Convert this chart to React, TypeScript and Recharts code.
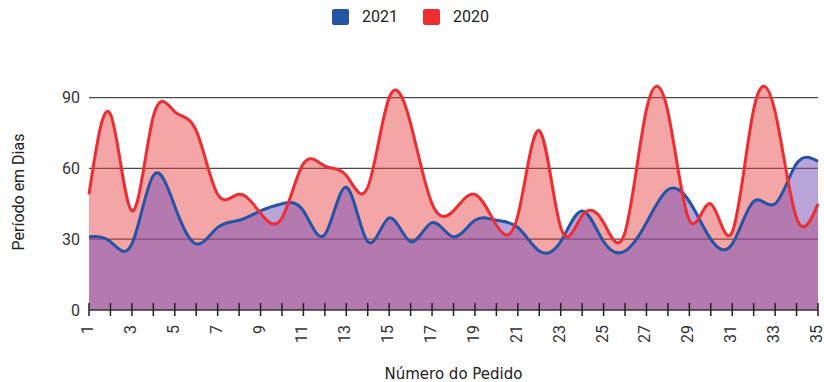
import React from 'react';
import { ComposedChart, Area, Line, XAxis, YAxis, CartesianGrid } from 'recharts';

// Order numbers (x axis) and delivery times in days for each year
const pedidos = [
  1, 2, 3, 4, 5, 6, 7, 8, 9, 10, 11, 12, 13, 14, 15, 16, 17, 18, 19, 20,
  21, 22, 23, 24, 25, 26, 27, 28, 29, 30, 31, 32, 33, 34, 35,
];
const dias2021 = [
  31, 29, 28, 57, 44, 28, 35, 38, 42, 45, 42, 32, 52, 29, 39, 29, 37, 31, 38, 38,
  35, 25, 29, 42, 29, 25, 37, 51, 46, 30, 28, 46, 45, 62, 63,
];
const dias2020 = [
  49, 83, 42, 82, 84, 76, 49, 49, 41, 39, 62, 61, 57, 52, 90, 79, 45, 42, 49, 36,
  40, 76, 35, 40, 37, 33, 85, 84, 38, 45, 33, 85, 84, 39, 45,
];
const yTicks = [0, 30, 60, 90];
const gridValues = [30, 60, 90];

const series = [
  { key: 'y2021', name: '2021', color: '#2454A6', fill: 'rgb(120,80,185)', fillOpacity: 0.52 },
  { key: 'y2020', name: '2020', color: '#EE2D32', fill: 'rgb(231,57,57)', fillOpacity: 0.45 },
];

const data = pedidos.map((p, i) => ({ pedido: p, y2021: dias2021[i], y2020: dias2020[i] }));

const FONT = 'Roboto, "Noto Sans", sans-serif';
const WIDE_FONT = '"DejaVu Sans", "Open Sans", sans-serif';

const PedidoTick = (props: any) => {
  const { x, y, payload } = props;
  const v = payload.value as number;
  return (
    <g transform={`translate(${x},${y})`}>
      <line x1={0} x2={0} y1={-7} y2={6} stroke="#222" strokeWidth={1.5} />
      {v % 2 === 1 && (
        <text
          transform="rotate(-90)"
          x={-15}
          y={0}
          dy="0.25em"
          textAnchor="end"
          fontSize={16}
          fontFamily={FONT}
          fill="#333"
        >
          {v}
        </text>
      )}
    </g>
  );
};

export default function App() {
  return (
    <div style={{ position: 'absolute', left: 0, top: 0, width: 824, height: 382, background: '#fff' }}>
      <div
        style={{
          position: 'absolute',
          top: 8,
          left: 332,
          display: 'flex',
          alignItems: 'center',
          fontFamily: FONT,
          fontSize: 16,
          color: '#222',
          lineHeight: '17px',
        }}
      >
        {series.map((s, i) => (
          <div key={s.key} style={{ display: 'flex', alignItems: 'center', marginLeft: i === 0 ? 0 : 25 }}>
            <span style={{ width: 17, height: 16, borderRadius: 2, background: s.color, display: 'inline-block' }} />
            <span style={{ marginLeft: 13 }}>{s.name}</span>
          </div>
        ))}
      </div>
      <ComposedChart
        width={824}
        height={382}
        data={data}
        margin={{ top: 74, right: 6, bottom: 0, left: 0 }}
        style={{ position: 'absolute', left: 0, top: 0 }}
      >
        <CartesianGrid vertical={false} horizontalValues={gridValues} stroke="#4a4a4a" strokeWidth={1.3} />
        <XAxis
          dataKey="pedido"
          type="number"
          domain={[1, 35]}
          ticks={pedidos}
          interval={0}
          height={72}
          tickSize={0}
          tickMargin={0}
          tickLine={false}
          axisLine={{ stroke: '#333', strokeWidth: 1.5 }}
          tick={<PedidoTick />}
          label={{
            value: 'Número do Pedido',
            position: 'insideBottom',
            offset: 3,
            style: { fontFamily: WIDE_FONT, fontSize: 15, fill: '#222' },
          }}
        />
        <YAxis
          type="number"
          domain={[0, 100]}
          ticks={yTicks}
          width={89}
          tickSize={0}
          tickMargin={9}
          tickLine={false}
          axisLine={false}
          tick={{ fontFamily: FONT, fontSize: 16, fill: '#333' }}
          label={{
            value: 'Período em Dias',
            angle: -90,
            position: 'insideLeft',
            offset: 18,
            style: { fontFamily: FONT, fontSize: 16, fill: '#222', textAnchor: 'middle' },
          }}
        />
        <Area
          type="natural"
          dataKey="y2020"
          stroke="none"
          fill={series[1].fill}
          fillOpacity={series[1].fillOpacity}
          isAnimationActive={false}
          dot={false}
          activeDot={false}
        />
        <Area
          type="natural"
          dataKey="y2021"
          stroke="none"
          fill={series[0].fill}
          fillOpacity={series[0].fillOpacity}
          isAnimationActive={false}
          dot={false}
          activeDot={false}
        />
        {series.map((s) => (
          <Line
            key={s.key}
            type="natural"
            dataKey={s.key}
            name={s.name}
            stroke={s.color}
            strokeWidth={3}
            dot={false}
            activeDot={false}
            isAnimationActive={false}
          />
        ))}
      </ComposedChart>
    </div>
  );
}
